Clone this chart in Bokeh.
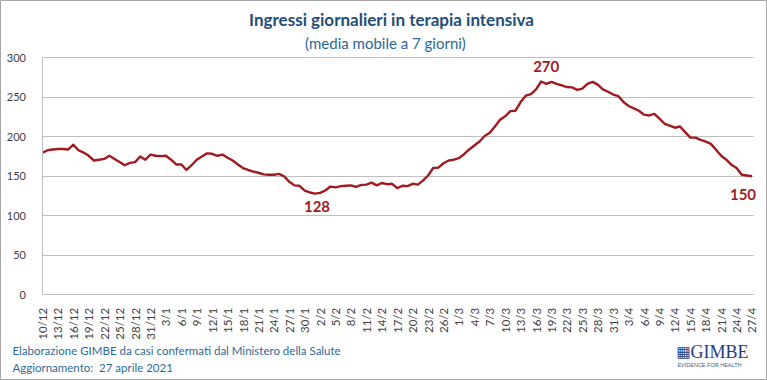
import pandas as pd
from bokeh.plotting import figure
from bokeh.models import Label, FixedTicker, Range1d
from bokeh.embed import file_html
from bokeh.resources import INLINE

# Daily ICU admissions, 7-day moving average, 10 Dec 2020 - 27 Apr 2021
days = pd.date_range("2020-12-10", "2021-04-27", freq="D")
day_labels = [f"{d.day}/{d.month}" for d in days]

icu_admissions = [
    180, 183, 184, 184.5, 184.5, 184, 190, 183, 180, 176,
    170, 171, 172, 176, 172, 168, 164, 167, 168, 175,
    171, 177.5, 176, 175.5, 176, 171, 165, 165, 158, 164,
    171, 175, 179, 178.5, 176, 177.5, 173.5, 170, 165, 160.5,
    158, 156, 154.5, 152.5, 152, 152, 153, 150, 143, 138.5,
    138, 132, 129.5, 128, 129, 132, 137, 136, 137.5, 138,
    138.5, 136.5, 139, 139.5, 142, 138.5, 141.5, 140, 140.5, 135,
    138, 137.5, 140.5, 139.5, 144.5, 151, 160.5, 161, 166.5, 170,
    171, 173, 178, 184, 189, 194, 201, 205, 213, 221.5,
    226, 232.5, 233, 244, 252, 254, 260, 270, 267, 269.5,
    267, 265, 263, 262.5, 259.5, 261, 267, 269.5, 266, 260,
    257, 253.5, 251.5, 244, 239, 236, 233, 228, 227, 229,
    223, 216.5, 214, 211.5, 213, 206, 199, 199, 196, 194,
    191, 183.5, 176, 171, 164.5, 160.5, 152, 151, 150,
]

# points whose value is written on the chart
labelled_days = [53, 97, 138]

y_ticks = [0, 50, 100, 150, 200, 250, 300]
x_ticks = list(range(0, len(days), 3))

LINE_RED = "#A01B20"
BLUE_DARK = "#1F4E79"
BLUE_TEXT = "#2C6A96"
GRID = "#BFBFBF"
FONT = "Lato"

# canvas and plotting-area geometry, in pixels from the top-left corner
W, H = 767, 380
AREA_LEFT, AREA_RIGHT = 41.5, 753.0
AREA_TOP, AREA_BOTTOM = 57.3, 294.3
FIRST_X, LAST_X = 42.0, 751.5
Y_MAX = 300

n = len(days)
x_step = (LAST_X - FIRST_X) / (n - 1)
y_step = (AREA_BOTTOM - AREA_TOP) / Y_MAX


def x_at(px):
    return (px - FIRST_X) / x_step


def y_at(py):
    return (AREA_BOTTOM - py) / y_step


# the frame fills the whole canvas; the axes sit at fixed positions inside it
p = figure(
    width=W, height=H,
    output_backend="svg", toolbar_location=None,
    x_range=Range1d(x_at(0), x_at(W)),
    y_range=Range1d(y_at(H), y_at(0)),
    min_border=0,
)
p.outline_line_color = "#A6A6A6"
p.outline_line_width = 1
p.background_fill_color = "white"
p.border_fill_color = "white"

x_left, x_right = x_at(AREA_LEFT), x_at(AREA_RIGHT)

p.line(list(range(n)), icu_admissions, line_color=LINE_RED, line_width=2.4,
       line_join="round")

# axes
p.yaxis.fixed_location = x_left
p.yaxis.bounds = (0, Y_MAX)
p.xaxis.fixed_location = 0
p.xaxis.bounds = (x_left, x_right)
p.yaxis.ticker = FixedTicker(ticks=y_ticks)
p.xaxis.ticker = FixedTicker(ticks=x_ticks)
p.xaxis.major_label_overrides = {i: day_labels[i] for i in x_ticks}
p.xaxis.major_label_orientation = 3.14159265 / 2
for ax in (p.xaxis, p.yaxis):
    ax.axis_line_color = GRID
    ax.axis_line_width = 1
    ax.major_tick_line_color = None
    ax.minor_tick_line_color = None
    ax.major_label_text_font = FONT
    ax.major_label_text_color = "#404040"
p.yaxis.major_label_text_font_size = "11px"
p.xaxis.major_label_text_font_size = "11.5px"
p.yaxis.major_label_standoff = 10
p.xaxis.major_label_standoff = 7

p.xgrid.grid_line_color = None
p.ygrid.grid_line_color = GRID
p.ygrid.grid_line_width = 1
p.ygrid.bounds = (1, Y_MAX)
p.ygrid.cross_bounds = (x_left, x_right)

# value labels on the line
offsets = {53: (2, -13), 97: (5, 15), 138: (-9, -18)}
for i in labelled_days:
    dx, dy = offsets[i]
    v = icu_admissions[i]
    p.add_layout(Label(
        x=i, y=v, x_offset=dx, y_offset=dy, text=f"{round(v)}",
        text_font=FONT, text_font_style="bold", text_font_size="15px",
        text_color=LINE_RED, text_align="center", text_baseline="middle",
    ))


def screen_label(text, px, py, **kw):
    """Place a text at pixel (px, py) measured from the top-left corner."""
    style = dict(text_font=FONT, text_baseline="middle")
    style.update(kw)
    p.add_layout(Label(x=px, y=H - py, x_units="screen", y_units="screen",
                       text=text, **style))


screen_label("Ingressi giornalieri in terapia intensiva", 391, 19,
             text_font_style="bold", text_font_size="17px",
             text_color=BLUE_DARK, text_align="center")
screen_label("(media mobile a 7 giorni)", 385, 42,
             text_font_size="15px", text_color="#2A6899", text_align="center")

screen_label("Elaborazione GIMBE da casi confermati dal Ministero della Salute", 12, 350,
             text_font_size="11.5px", text_color=BLUE_TEXT, text_align="left")
screen_label("Aggiornamento:\u00a0 27 aprile 2021", 12, 367,
             text_font_size="11.5px", text_color=BLUE_TEXT, text_align="left")

# logo
screen_label("\u25A6", 683, 351, text_font="DejaVu Sans", text_font_size="15px",
             text_color="#1F3D7A", text_align="center")
screen_label("GIMBE", 690, 351, text_font="Liberation Serif", text_font_size="18px",
             text_color="#1F3D7A", text_align="left")
screen_label("EVIDENCE FOR HEALTH", 741, 364, text_font="Liberation Sans",
             text_font_size="5.5px", text_color="#3A5F8F", text_align="right")

open("out.html", "w").write(file_html(p, INLINE))
